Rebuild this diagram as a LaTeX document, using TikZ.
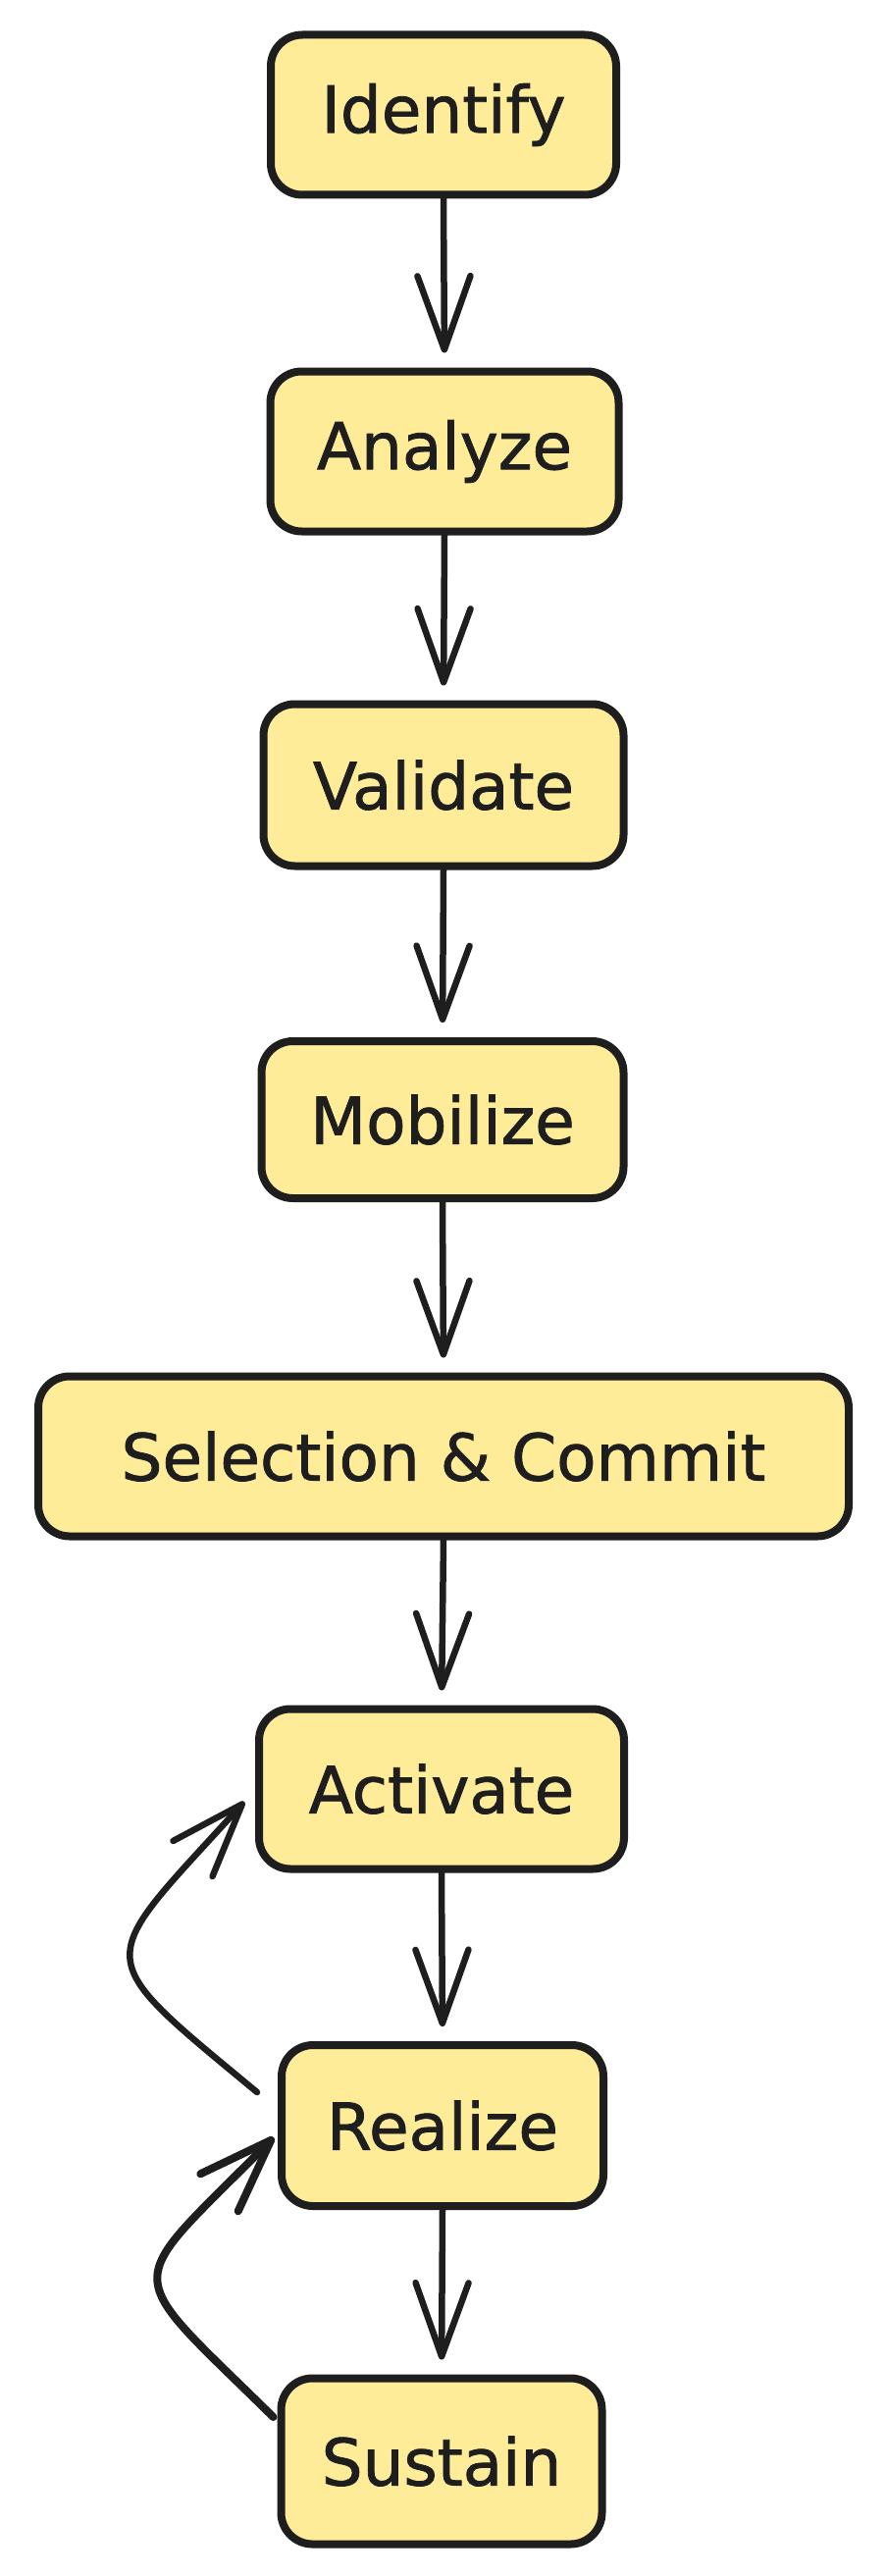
\documentclass[tikz,border=0pt]{standalone}
\usepackage{fontspec}
\setmainfont[FakeBold=1.2]{DejaVu Sans}
\usetikzlibrary{arrows.meta}
\definecolor{boxfill}{HTML}{FFEC99}
\definecolor{ink}{HTML}{1E1E1E}
\begin{document}
\begin{tikzpicture}[x=1pt,y=-1pt,
  stepbox/.style={draw=ink, line width=8pt, fill=boxfill, rounded corners=32pt,
    minimum height=163pt, inner sep=0pt, font=\fontsize{66}{78}\selectfont, text=ink},
  flow/.style={draw=ink, line width=6.5pt, line cap=round,
    -{Straight Barb[length=75pt,width=54pt,line cap=round,line join=round]}},
]
\fill[white] (0,0) rectangle (902,2625);
\useasboundingbox (0,0) rectangle (902,2625);

\node[stepbox, minimum width=352pt] (identify) at (452,117) {Identify};
\node[stepbox, minimum width=355pt] (analyze) at (453,460) {Analyze};
\node[stepbox, minimum width=367pt, minimum height=165pt] (validate) at (452,800) {Validate};
\node[stepbox, minimum width=369pt, minimum height=160pt] (mobilize) at (451,1141) {Mobilize};
\node[stepbox, minimum width=826pt] (select) at (452,1484) {Selection \& Commit};
\node[stepbox, minimum width=372pt] (activate) at (450,1823) {Activate};
\node[stepbox, minimum width=328pt, minimum height=164pt] (realize) at (451,2166) {Realize};
\node[stepbox, minimum width=327pt, minimum height=169pt] (sustain) at (450,2508) {Sustain};

\draw[flow, shorten >=15pt] (identify.south) -- (analyze.north);
\draw[flow, shorten >=15pt] (analyze.south) -- (validate.north);
\draw[flow, shorten >=15pt] (validate.south) -- (mobilize.north);
\draw[flow, shorten >=15pt] (mobilize.south) -- (select.north);
\draw[flow, shorten >=15pt] (select.south) -- (activate.north);
\draw[flow, shorten >=15pt] (activate.south) -- (realize.north);
\draw[flow, shorten >=15pt] (realize.south) -- (sustain.north);

\draw[flow] ([xshift=-21pt,yshift=34pt]realize.west)
  .. controls +(-175,-145) and +(-152,168) .. ([xshift=-11pt,yshift=-13pt]activate.west);
\draw[flow, line width=8pt] ([xshift=-4pt,yshift=45pt]sustain.west)
  .. controls +(-158,-156) and +(-156,158) .. ([xshift=-4pt,yshift=-12pt]realize.west);
\end{tikzpicture}
\end{document}
